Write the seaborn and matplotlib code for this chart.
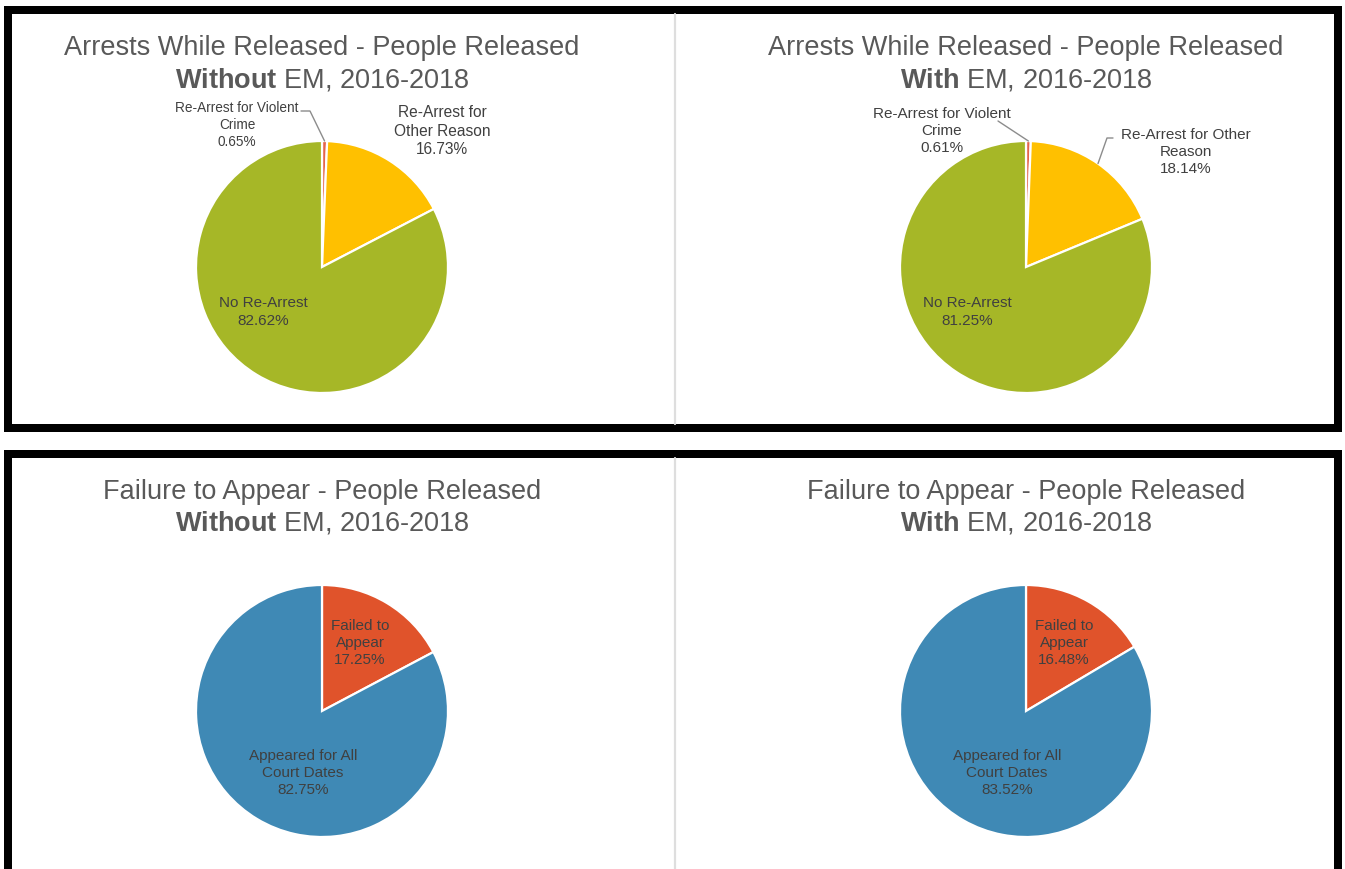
import numpy as np
import matplotlib
matplotlib.use("Agg")
import matplotlib.pyplot as plt
from matplotlib.patches import Rectangle
from matplotlib.lines import Line2D
import seaborn as sns

# ---- data -------------------------------------------------------------
arrest_labels = ["Re-Arrest for Violent\nCrime", "Re-Arrest for\nOther Reason", "No Re-Arrest"]
arrest_labels_with = ["Re-Arrest for Violent\nCrime", "Re-Arrest for Other\nReason", "No Re-Arrest"]
arrests_without_em = [0.65, 16.73, 82.62]
arrests_with_em = [0.61, 18.14, 81.25]

fta_labels = ["Failed to\nAppear", "Appeared for All\nCourt Dates"]
fta_without_em = [17.25, 82.75]
fta_with_em = [16.48, 83.52]

titles_line1 = ["Arrests While Released - People Released",
                "Arrests While Released - People Released",
                "Failure to Appear - People Released",
                "Failure to Appear - People Released"]
titles_bold = ["Without", "With", "Without", "With"]
titles_rest = " EM, 2016-2018"

arrest_colors = ["#E5644C", "#FFC000", "#A6B727"]
fta_colors = ["#E0532B", "#3F89B5"]

# ---- figure setup -----------------------------------------------------
sns.set_theme(style="white")
plt.rcParams["font.family"] = ["Liberation Sans", "DejaVu Sans"]
plt.rcParams["mathtext.fontset"] = "custom"
plt.rcParams["mathtext.rm"] = "Liberation Sans"
plt.rcParams["mathtext.bf"] = "Liberation Sans:bold"

W, H = 1345, 870
fig = plt.figure(figsize=(W / 100, H / 100), dpi=100)
fig.patch.set_facecolor("white")


def fx(x):
    return x / W


def fy(y):
    return 1 - y / H


TITLE_C = "#595959"
LABEL_C = "#404040"
LEADER_C = "#8c8c8c"
R = 126
LABEL_SIZE = 11


def draw_pie(cx, cy, values, colors):
    ax = fig.add_axes([fx(cx - R), fy(cy + R), 2 * R / W, 2 * R / H])
    ax.pie(values, colors=colors, startangle=90, counterclock=False,
           radius=1, wedgeprops=dict(edgecolor="white", linewidth=1.6))
    ax.set_xlim(-1, 1)
    ax.set_ylim(-1, 1)
    ax.axis("off")
    return ax


def pos(cx, cy, x, y):
    return (x - cx) / R, (cy - y) / R


def edge_point(values, i):
    start = 90 - 360 * sum(values[:i]) / 100
    mid = start - 360 * values[i] / 200
    t = np.deg2rad(mid)
    return np.cos(t), np.sin(t)


def label(ax, cx, cy, x, y, text, size=LABEL_SIZE):
    lx, ly = pos(cx, cy, x, y)
    ax.text(lx, ly, text, ha="center", va="center", fontsize=size,
            color=LABEL_C, linespacing=1.3, clip_on=False)


def leader(ax, cx, cy, pts_px, values, i):
    xs, ys = [], []
    for (x, y) in pts_px:
        a, b = pos(cx, cy, x, y)
        xs.append(a)
        ys.append(b)
    ex, ey = edge_point(values, i)
    xs.append(ex)
    ys.append(ey)
    ax.plot(xs, ys, color=LEADER_C, lw=1, clip_on=False)


def title(cx, y1, y2, line1, bold):
    fig.text(fx(cx), fy(y1), line1, ha="center", va="center",
             fontsize=19.5, color=TITLE_C)
    fig.text(fx(cx), fy(y2), r"$\bf{" + bold + "}$" + titles_rest,
             ha="center", va="center", fontsize=19.5, color=TITLE_C)


# ---- panels -----------------------------------------------------------
centres = [(322, 268), (1026, 268), (322, 712), (1026, 712)]

# Arrests, without EM
cx, cy = centres[0]
ax = draw_pie(cx, cy, arrests_without_em, arrest_colors)
title(cx, 48, 80, titles_line1[0], titles_bold[0])
label(ax, cx, cy, 237, 125, f"{arrest_labels[0]}\n{arrests_without_em[0]:.2f}%", 9.8)
label(ax, cx, cy, 442, 131, f"{arrest_labels[1]}\n{arrests_without_em[1]:.2f}%", 11.2)
label(ax, cx, cy, 263, 312, f"{arrest_labels[2]}\n{arrests_without_em[2]:.2f}%")
leader(ax, cx, cy, [(301, 112), (310, 112)], arrests_without_em, 0)

# Arrests, with EM
cx, cy = centres[1]
ax = draw_pie(cx, cy, arrests_with_em, arrest_colors)
title(cx, 48, 80, titles_line1[1], titles_bold[1])
label(ax, cx, cy, 942, 131, f"{arrest_labels_with[0]}\n{arrests_with_em[0]:.2f}%")
label(ax, cx, cy, 1186, 152, f"{arrest_labels_with[1]}\n{arrests_with_em[1]:.2f}%")
label(ax, cx, cy, 967, 312, f"{arrest_labels_with[2]}\n{arrests_with_em[2]:.2f}%")
leader(ax, cx, cy, [(998, 122)], arrests_with_em, 0)
leader(ax, cx, cy, [(1113, 139), (1107, 139)], arrests_with_em, 1)

# Failure to appear, without EM
cx, cy = centres[2]
ax = draw_pie(cx, cy, fta_without_em, fta_colors)
title(cx, 492, 523, titles_line1[2], titles_bold[2])
label(ax, cx, cy, 360, 643, f"{fta_labels[0]}\n{fta_without_em[0]:.2f}%")
label(ax, cx, cy, 303, 773, f"{fta_labels[1]}\n{fta_without_em[1]:.2f}%")

# Failure to appear, with EM
cx, cy = centres[3]
ax = draw_pie(cx, cy, fta_with_em, fta_colors)
title(cx, 492, 523, titles_line1[3], titles_bold[3])
label(ax, cx, cy, 1064, 643, f"{fta_labels[0]}\n{fta_with_em[0]:.2f}%")
label(ax, cx, cy, 1007, 773, f"{fta_labels[1]}\n{fta_with_em[1]:.2f}%")

# ---- frames and dividers ---------------------------------------------
lw_pt = 8 * 72 / 100
fig.add_artist(Line2D([fx(675), fx(675)], [fy(15), fy(425)], color="#dedede", lw=1.6))
fig.add_artist(Line2D([fx(675), fx(675)], [fy(459), fy(875)], color="#dedede", lw=1.6))
fig.add_artist(Rectangle((fx(8), fy(429)), fx(1338) - fx(8), fy(11) - fy(429),
                         fill=False, edgecolor="black", lw=lw_pt, joinstyle="miter"))
fig.add_artist(Rectangle((fx(8), fy(880)), fx(1338) - fx(8), fy(455) - fy(880),
                         fill=False, edgecolor="black", lw=lw_pt, joinstyle="miter"))

fig.savefig("out.png", dpi=100, facecolor="white")
